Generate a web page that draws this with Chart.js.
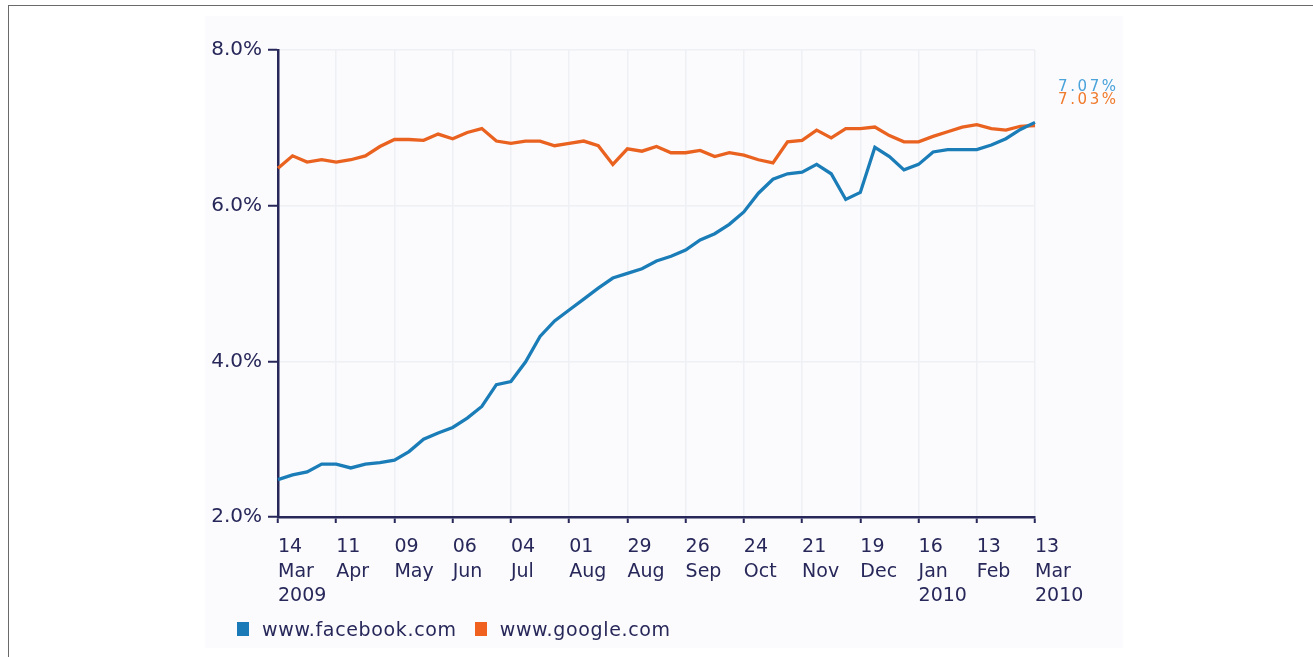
<!DOCTYPE html>
<html>
<head>
<meta charset="utf-8">
<script src="https://cdn.jsdelivr.net/npm/chart.js@4/dist/chart.umd.min.js"></script>
<style>
  html, body { margin: 0; padding: 0; background: #ffffff; }
  #wrap { position: relative; width: 1313px; height: 657px; overflow: hidden; background: #ffffff; }
  #frame { position: absolute; left: 8px; top: 5px; right: -10px; bottom: -10px;
           border-top: 1.5px solid #6a6a6a; border-left: 1.5px solid #6a6a6a; }
  #panel { position: absolute; left: 205px; top: 16px; width: 918px; height: 632px; background: #fbfbfd; }
  canvas { position: absolute; left: 0; top: 0; }
  #legend { position: absolute; left: 237px; top: 617px; height: 24px; display: flex; align-items: center;
            font-family: 'DejaVu Sans', sans-serif; font-size: 19px; color: #27275a; letter-spacing: 0.65px; }
  #legend .item { display: flex; align-items: center; }
  #legend .sw { width: 12px; height: 14px; margin-right: 13px; }
</style>
</head>
<body>
<div id="wrap">
  <div id="panel"></div>
  <div id="frame"></div>
  <canvas id="c" width="1313" height="657"></canvas>
  <div id="legend"></div>
</div>
<script>
// Weekly categories (week ending dates)
const categories = [
  "2009-03-14","2009-03-21","2009-03-28","2009-04-04","2009-04-11","2009-04-18","2009-04-25",
  "2009-05-02","2009-05-09","2009-05-16","2009-05-23","2009-05-30","2009-06-06","2009-06-13",
  "2009-06-20","2009-06-27","2009-07-04","2009-07-11","2009-07-18","2009-07-25","2009-08-01",
  "2009-08-08","2009-08-15","2009-08-22","2009-08-29","2009-09-05","2009-09-12","2009-09-19",
  "2009-09-26","2009-10-03","2009-10-10","2009-10-17","2009-10-24","2009-10-31","2009-11-07",
  "2009-11-14","2009-11-21","2009-11-28","2009-12-05","2009-12-12","2009-12-19","2009-12-26",
  "2010-01-02","2010-01-09","2010-01-16","2010-01-23","2010-01-30","2010-02-06","2010-02-13",
  "2010-02-20","2010-02-27","2010-03-06","2010-03-13"
];

// Share of visits (%)
const facebook = [
  2.48,2.54,2.58,2.68,2.68,2.63,2.68,2.70,2.73,2.84,
  3.00,3.08,3.15,3.27,3.42,3.70,3.74,3.99,4.32,4.52,
  4.66,4.80,4.94,5.07,5.13,5.19,5.29,5.35,5.43,5.56,
  5.64,5.76,5.92,6.16,6.34,6.41,6.43,6.53,6.41,6.08,
  6.17,6.75,6.63,6.46,6.53,6.69,6.72,6.72,6.72,6.78,
  6.86,6.98,7.07
];
const google = [
  6.48,6.64,6.56,6.59,6.56,6.59,6.64,6.76,6.85,6.85,
  6.84,6.92,6.86,6.94,6.99,6.83,6.80,6.83,6.83,6.77,
  6.80,6.83,6.77,6.53,6.73,6.70,6.76,6.68,6.68,6.71,
  6.63,6.68,6.65,6.59,6.55,6.82,6.84,6.97,6.87,6.99,
  6.99,7.01,6.90,6.82,6.82,6.89,6.95,7.01,7.04,6.99,
  6.97,7.02,7.03
];

// Tick labels shown every 4 weeks
const tickLabels = [
  ["14","Mar","2009"],["11","Apr"],["09","May"],["06","Jun"],["04","Jul"],
  ["01","Aug"],["29","Aug"],["26","Sep"],["24","Oct"],["21","Nov"],
  ["19","Dec"],["16","Jan","2010"],["13","Feb"],["13","Mar","2010"]
];
const tickEvery = 4;
const yTicks = [2, 4, 6, 8];
const seriesNames = ["www.facebook.com", "www.google.com"];

const navy = "#27275a";
const blue = "#1b7db8";
const orange = "#ea6220";
const swatch = ["#1a7ab8", "#f0601e"];
const gridCol = "#eef0f4";

// HTML legend
const legendEl = document.getElementById("legend");
seriesNames.forEach((name, i) => {
  const item = document.createElement("div");
  item.className = "item";
  if (i > 0) item.style.marginLeft = "18px";
  const sw = document.createElement("span");
  sw.className = "sw";
  sw.style.background = swatch[i];
  const tx = document.createElement("span");
  tx.textContent = name;
  item.appendChild(sw);
  item.appendChild(tx);
  legendEl.appendChild(item);
});

const endLabels = {
  id: "endLabels",
  afterDatasetsDraw(chart) {
    const ctx = chart.ctx;
    const area = chart.chartArea;
    const items = [
      { v: facebook[facebook.length - 1], color: "#4aa3da", dy: 87 - area.top },
      { v: google[google.length - 1], color: "#f07a2c", dy: 100 - area.top }
    ];
    ctx.save();
    ctx.font = "15px 'DejaVu Sans'";
    try { ctx.letterSpacing = "2.6px"; } catch (e) {}
    ctx.textAlign = "left";
    ctx.textBaseline = "middle";
    items.forEach(it => {
      ctx.fillStyle = it.color;
      ctx.fillText(it.v.toFixed(2) + "%", area.right + 23, area.top + it.dy);
    });
    ctx.restore();
  }
};

new Chart(document.getElementById("c"), {
  type: "line",
  data: {
    labels: categories,
    datasets: [
      { label: seriesNames[0], data: facebook, borderColor: blue, backgroundColor: blue,
        borderWidth: 3.3, pointRadius: 0, tension: 0 },
      { label: seriesNames[1], data: google, borderColor: orange, backgroundColor: orange,
        borderWidth: 3.3, pointRadius: 0, tension: 0 }
    ]
  },
  options: {
    responsive: false,
    animation: false,
    devicePixelRatio: 1,
    layout: { padding: { left: 190, right: 278, top: 50, bottom: 20 } },
    plugins: {
      tooltip: { enabled: false },
      legend: { display: false }
    },
    scales: {
      x: {
        type: "category",
        offset: false,
        afterFit(scale) { scale.height = 120; },
        border: { color: navy, width: 2.5 },
        grid: { color: gridCol, lineWidth: 1.5, tickColor: navy, tickWidth: 2, tickLength: 6 },
        ticks: {
          autoSkip: false, maxRotation: 0, minRotation: 0,
          align: "start", padding: 12,
          color: navy,
          font: { family: "'DejaVu Sans'", size: 19, lineHeight: 1.29 },
          callback(value, index) {
            return index % tickEvery === 0 ? tickLabels[index / tickEvery] : null;
          }
        }
      },
      y: {
        min: yTicks[0], max: yTicks[yTicks.length - 1],
        afterFit(scale) { scale.width = 88; },
        afterBuildTicks(scale) { scale.ticks = yTicks.map(v => ({ value: v })); },
        border: { color: navy, width: 2.5 },
        grid: { color: gridCol, lineWidth: 1.5, tickColor: navy, tickWidth: 2, tickLength: 10 },
        ticks: {
          padding: 6,
          color: navy,
          font: { family: "'DejaVu Sans'", size: 20 },
          callback(v) { return v.toFixed(1) + "%"; }
        }
      }
    }
  },
  plugins: [endLabels]
});
</script>
</body>
</html>
